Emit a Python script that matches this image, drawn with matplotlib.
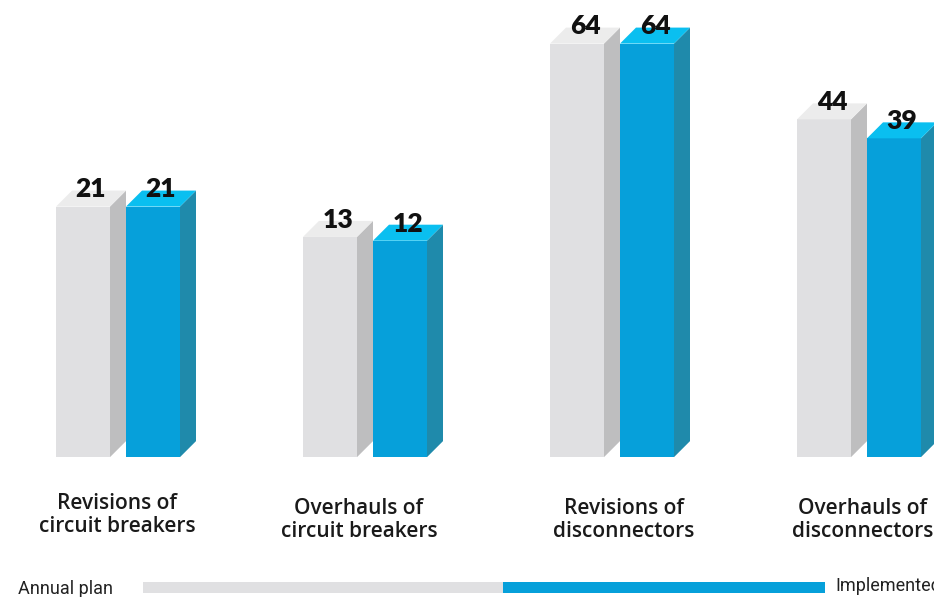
import matplotlib
matplotlib.use("Agg")
import matplotlib.pyplot as plt
from matplotlib.patches import Polygon, Rectangle

categories = ["Revisions of\ncircuit breakers", "Overhauls of\ncircuit breakers",
              "Revisions of\ndisconnectors", "Overhauls of\ndisconnectors"]
annual_plan = [21, 13, 64, 44]
implemented = [21, 12, 64, 39]
legend_labels = ["Annual plan", "Implemented"]

# bars sit on a virtual floor below zero (chart is not zero-based)
BASE = -45.1
PX_Y = 3.79         # pixels per value unit
W = 54 / 247.0      # front face width
D = 16 / 247.0      # depth, x
DY = 16 / PX_Y      # depth, y

colors = {
    "plan": ("#e0e0e2", "#bebebf", "#ececec"),
    "impl": ("#06a0da", "#1f8aab", "#0abff0"),
}

fig = plt.figure(figsize=(9.34, 5.97), dpi=100)
ax = fig.add_axes([0, 0, 1, 1])
ax.set_xlim(-126 / 247.0, (934 - 126) / 247.0)
ax.set_ylim(-82.0, 75.5)
ax.axis("off")


def bar3d(x0, v, cols):
    front, side, top = cols
    ax.bar(x0, v - BASE, width=W, bottom=BASE, align="edge", color=front, lw=0)
    x1 = x0 + W
    ax.add_patch(Polygon([(x1, BASE), (x1 + D, BASE + DY), (x1 + D, v + DY), (x1, v)],
                         closed=True, color=side, lw=0))
    ax.add_patch(Polygon([(x0, v), (x1, v), (x1 + D, v + DY), (x0 + D, v + DY)],
                         closed=True, color=top, lw=0))
    ax.text(x0 + (W + D) / 2, v + 2.4, str(v), ha="center", va="baseline",
            fontsize=19, fontweight="heavy", family=["Lato", "DejaVu Sans"], color="#111111")


# label placement (pixels below the floor line, x shift in pixels)
label_dx = [-9, -14, 4, -4]
label_py = [58, 63, 63, 63]
for i, cat in enumerate(categories):
    bar3d(i - W - D, annual_plan[i], colors["plan"])
    bar3d(i, implemented[i], colors["impl"])
    ax.text(i + label_dx[i] / 247.0, BASE - label_py[i] / PX_Y,
            cat, ha="center", va="center", fontsize=15, linespacing=1.1,
            family=["Open Sans", "DejaVu Sans"], fontweight="semibold", color="#1a1a1a")

# legend strip along the bottom
fig.patches.append(Rectangle((143 / 934, 4 / 597), 360 / 934, 11 / 597,
                             transform=fig.transFigure, color=colors["plan"][0], lw=0))
fig.patches.append(Rectangle((503 / 934, 4 / 597), 322 / 934, 11 / 597,
                             transform=fig.transFigure, color=colors["impl"][0], lw=0))
fig.text(18 / 934, 8 / 597, legend_labels[0], ha="left", va="center", fontsize=13,
         family=["Roboto", "DejaVu Sans"], color="#222222")
fig.text(835 / 934, 11 / 597, legend_labels[1], ha="left", va="center", fontsize=13,
         family=["Roboto", "DejaVu Sans"], color="#222222")

fig.savefig("out.png", dpi=100)
